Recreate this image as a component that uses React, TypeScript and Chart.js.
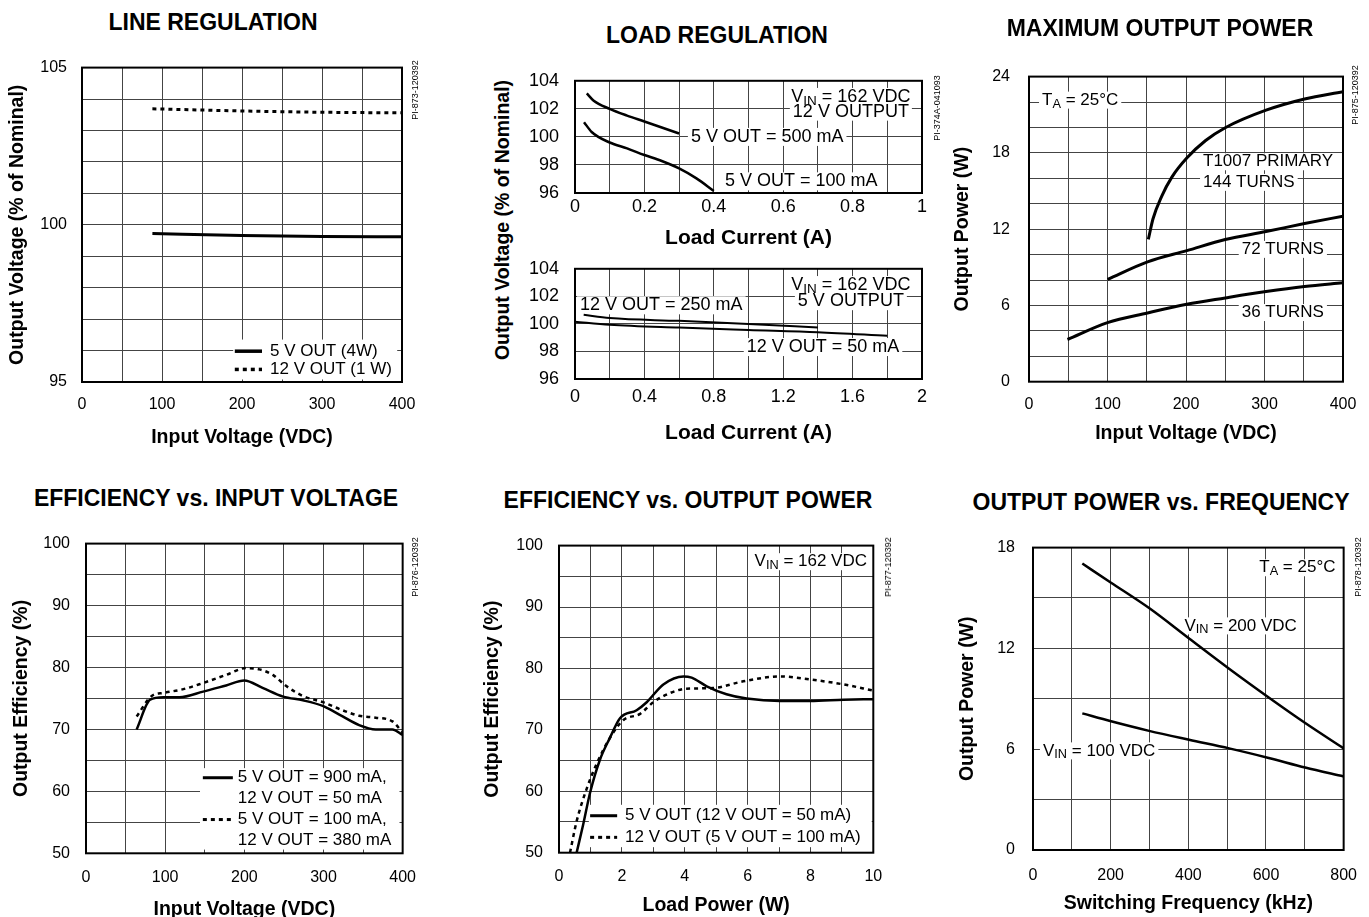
import React, { useEffect, useRef } from "react";
import { Chart, registerables } from "chart.js";
Chart.register(...registerables);

const FONT = "'Liberation Sans', Arial, Helvetica, sans-serif";

// ---------- DATA ----------
// Line regulation
const lineRegVin = [88, 200, 300, 400];
const lineReg5VOut = [99.72, 99.66, 99.63, 99.62];
const lineReg12VOut = [103.69, 103.62, 103.58, 103.56];

// Load regulation, 12 V output
const load12Curr500 = [0.034, 0.053, 0.1, 0.15, 0.2, 0.25, 0.3];
const load12Vout500 = [103.1, 102.6, 102.0, 101.52, 101.1, 100.67, 100.24];
const load12Curr100 = [0.026, 0.048, 0.1, 0.15, 0.2, 0.25, 0.3, 0.35, 0.4];
const load12Vout100 = [101.05, 100.35, 99.6, 99.18, 98.71, 98.28, 97.75, 97.04, 96.15];

// Load regulation, 5 V output
const load5Curr250 = [0.05, 0.2, 0.6, 1.0, 1.4];
const load5Vout250 = [100.66, 100.42, 100.22, 100.0, 99.74];
const load5Curr50 = [0, 0.2, 0.6, 1.0, 1.4, 1.8];
const load5Vout50 = [100.16, 99.94, 99.73, 99.56, 99.4, 99.14];

// Maximum output power
const maxPwrVin144 = [152, 158, 169, 182, 201, 225, 250, 302, 351, 400];
const maxPwr144 = [11.19, 12.82, 14.58, 16.09, 17.59, 18.97, 19.98, 21.36, 22.24, 22.82];
const maxPwrVin72 = [100, 151, 201, 250, 302, 351, 400];
const maxPwr72 = [8.05, 9.43, 10.31, 11.19, 11.81, 12.44, 13.02];
const maxPwrVin36 = [49, 100, 151, 201, 250, 302, 351, 400];
const maxPwr36 = [3.32, 4.65, 5.41, 6.09, 6.59, 7.09, 7.49, 7.79];

// Efficiency vs input voltage
const effVinA = [64, 81, 98, 118, 148, 177, 200, 223, 249, 274, 299, 320, 345, 366, 387, 400];
const effA = [70.0, 74.8, 75.2, 75.2, 76.1, 77.1, 77.9, 76.7, 75.3, 74.7, 73.8, 72.4, 70.7, 70.0, 70.0, 69.1];
const effVinB = [64, 83, 98, 123, 148, 177, 202, 219, 236, 253, 274, 299, 324, 345, 366, 387, 400];
const effB = [72.1, 75.4, 75.9, 76.5, 77.5, 78.8, 79.9, 79.7, 78.8, 77.0, 75.4, 74.4, 73.1, 72.2, 71.9, 71.3, 69.5];

// Efficiency vs output power
const effPwr5V = [0.56, 0.77, 0.99, 1.3, 1.62, 1.94, 2.47, 2.79, 3.32, 3.96, 4.22, 4.7, 5.33, 5.97, 7.03, 7.99, 9.05, 10];
const eff5V = [50, 54.6, 59.8, 65.1, 68.7, 71.9, 73.2, 74.5, 77.4, 78.7, 78.5, 77.1, 75.8, 75.1, 74.7, 74.7, 74.9, 75.0];
const effPwr12V = [0.35, 0.56, 0.88, 1.2, 1.62, 2.05, 2.58, 3.0, 3.53, 4.06, 4.9, 5.86, 7.03, 8.0, 9.05, 10];
const eff12V = [50, 55.1, 60.4, 64.5, 68.7, 71.6, 72.6, 74.5, 76.0, 76.7, 76.8, 77.9, 78.7, 78.2, 77.4, 76.4];

// Output power vs frequency
const freqKHz = [127, 201, 299, 402, 505, 607, 701, 800];
const pwrVin200 = [17.05, 15.91, 14.4, 12.59, 10.79, 9.08, 7.56, 6.05];
const pwrVin100 = [8.13, 7.66, 7.09, 6.56, 6.05, 5.48, 4.91, 4.38];

// ---------- TYPES ----------
type Seg = { t: string; sub?: boolean };
type Note = { x: number; y: number; text: Seg[]; align?: "left" | "right" | "center" };
type Swatch = { x1: number; x2: number; y: number; dashed?: boolean };
type Box = { x1: number; x2: number; y1: number; y2: number };
type Series = { xs: number[]; ys: number[]; dashed?: boolean; label: string };
type Axis = { min: number; max: number; grid: number; label: number; title?: string };
type Panel = {
  plot: [number, number, number, number];
  x: Axis;
  y: Axis;
  series: Series[];
  notes?: Note[];
  swatches?: Swatch[];
  boxes?: Box[];
  tickSize: number;
  axisTitleSize: number;
  noteSize: number;
  yTitleX?: number;
  xTitleY: number;
  xTickPad: number;
  yTickPad: number;
  lineWidth: number;
};

const T = (s: string): Seg[] => [{ t: s }];
const VIN = (rest: string): Seg[] => [{ t: "V" }, { t: "IN", sub: true }, { t: rest }];
const TA = (rest: string): Seg[] => [{ t: "T" }, { t: "A", sub: true }, { t: rest }];

// ---------- PANELS ----------
const panels: Panel[] = [
  {
    plot: [82, 57, 402, 382],
    x: { min: 0, max: 400, grid: 50, label: 100, title: "Input Voltage (VDC)" },
    y: { min: 95, max: 105, grid: 1, label: 5, title: "Output Voltage (% of Nominal)" },
    series: [
      { xs: lineRegVin, ys: lineReg5VOut, label: "5 V OUT (4W)" },
      { xs: lineRegVin, ys: lineReg12VOut, dashed: true, label: "12 V OUT (1 W)" },
    ],
    boxes: [{ x1: 189, x2: 394, y1: 96.35, y2: 95.08 }],
    swatches: [
      { x1: 191, x2: 225, y: 95.98 },
      { x1: 191, x2: 225, y: 95.4, dashed: true },
    ],
    notes: [
      { x: 235, y: 95.98, text: T("5 V OUT (4W)") },
      { x: 235, y: 95.4, text: T("12 V OUT (1 W)") },
    ],
    tickSize: 16, axisTitleSize: 19.5, noteSize: 17,
    yTitleX: 18, xTitleY: 437, xTickPad: 13, yTickPad: 15, lineWidth: 3,
  },
  {
    plot: [575, 68, 922, 193],
    x: { min: 0, max: 1, grid: 0.1, label: 0.2, title: "Load Current (A)" },
    y: { min: 96, max: 104, grid: 2, label: 2 },
    series: [
      { xs: load12Curr500, ys: load12Vout500, label: "5 V OUT = 500 mA" },
      { xs: load12Curr100, ys: load12Vout100, label: "5 V OUT = 100 mA" },
    ],
    notes: [
      { x: 0.795, y: 102.85, text: VIN(" = 162 VDC"), align: "center" },
      { x: 0.795, y: 101.8, text: T("12 V OUTPUT"), align: "center" },
      { x: 0.334, y: 100.0, text: T("5 V OUT = 500 mA") },
      { x: 0.432, y: 96.83, text: T("5 V OUT = 100 mA") },
    ],
    tickSize: 18, axisTitleSize: 21, noteSize: 18,
    xTitleY: 238, xTickPad: 3, yTickPad: 16, lineWidth: 2.5,
  },
  {
    plot: [575, 256, 922, 379],
    x: { min: 0, max: 2, grid: 0.2, label: 0.4, title: "Load Current (A)" },
    y: { min: 96, max: 104, grid: 2, label: 2 },
    series: [
      { xs: load5Curr250, ys: load5Vout250, label: "12 V OUT = 250 mA" },
      { xs: load5Curr50, ys: load5Vout50, label: "12 V OUT = 50 mA" },
    ],
    notes: [
      { x: 1.59, y: 102.82, text: VIN(" = 162 VDC"), align: "center" },
      { x: 1.59, y: 101.65, text: T("5 V OUTPUT"), align: "center" },
      { x: 0.029, y: 101.35, text: T("12 V OUT = 250 mA") },
      { x: 0.99, y: 98.32, text: T("12 V OUT = 50 mA") },
    ],
    tickSize: 18, axisTitleSize: 21, noteSize: 18,
    xTitleY: 433, xTickPad: 7, yTickPad: 16, lineWidth: 2,
  },
  {
    plot: [1029, 62.7, 1343, 381.7],
    x: { min: 0, max: 400, grid: 50, label: 100, title: "Input Voltage (VDC)" },
    y: { min: 0, max: 24, grid: 2, label: 6, title: "Output Power (W)" },
    series: [
      { xs: maxPwrVin144, ys: maxPwr144, label: "144 TURNS" },
      { xs: maxPwrVin72, ys: maxPwr72, label: "72 TURNS" },
      { xs: maxPwrVin36, ys: maxPwr36, label: "36 TURNS" },
    ],
    notes: [
      { x: 16.6, y: 22.15, text: TA(" = 25°C") },
      { x: 221.7, y: 17.3, text: T("T1007 PRIMARY") },
      { x: 221.7, y: 15.68, text: T("144 TURNS") },
      { x: 271, y: 10.41, text: T("72 TURNS") },
      { x: 271, y: 5.44, text: T("36 TURNS") },
    ],
    tickSize: 16, axisTitleSize: 19.5, noteSize: 17,
    yTitleX: 963, xTitleY: 433, xTickPad: 13, yTickPad: 19, lineWidth: 3,
  },
  {
    plot: [86, 532.3, 403, 853.3],
    x: { min: 0, max: 400, grid: 50, label: 100, title: "Input Voltage (VDC)" },
    y: { min: 50, max: 100, grid: 5, label: 10, title: "Output Efficiency (%)" },
    series: [
      { xs: effVinA, ys: effA, label: "5 V OUT = 900 mA, 12 V OUT = 50 mA" },
      { xs: effVinB, ys: effB, dashed: true, label: "5 V OUT = 100 mA, 12 V OUT = 380 mA" },
    ],
    boxes: [{ x1: 144, x2: 396, y1: 63.75, y2: 50.6 }],
    swatches: [
      { x1: 147.6, x2: 185.5, y: 62.2 },
      { x1: 147.6, x2: 185.5, y: 55.45, dashed: true },
    ],
    notes: [
      { x: 191.8, y: 62.2, text: T("5 V OUT = 900 mA,") },
      { x: 191.8, y: 58.82, text: T("12 V OUT = 50 mA") },
      { x: 191.8, y: 55.45, text: T("5 V OUT = 100 mA,") },
      { x: 191.8, y: 52.07, text: T("12 V OUT = 380 mA") },
    ],
    tickSize: 16, axisTitleSize: 19.5, noteSize: 17,
    yTitleX: 22, xTitleY: 909, xTickPad: 15, yTickPad: 16, lineWidth: 2.5,
  },
  {
    plot: [559, 534, 873.3, 852.7],
    x: { min: 0, max: 10, grid: 1, label: 2, title: "Load Power (W)" },
    y: { min: 50, max: 100, grid: 5, label: 10, title: "Output Efficiency (%)" },
    series: [
      { xs: effPwr5V, ys: eff5V, label: "5 V OUT (12 V OUT = 50 mA)" },
      { xs: effPwr12V, ys: eff12V, dashed: true, label: "12 V OUT (5 V OUT = 100 mA)" },
    ],
    boxes: [{ x1: 0.95, x2: 9.95, y1: 57.8, y2: 50.9 }],
    swatches: [
      { x1: 0.99, x2: 1.85, y: 56.02 },
      { x1: 0.99, x2: 1.85, y: 52.5, dashed: true },
    ],
    notes: [
      { x: 9.8, y: 97.38, text: VIN(" = 162 VDC"), align: "right" },
      { x: 2.1, y: 56.02, text: T("5 V OUT (12 V OUT = 50 mA)") },
      { x: 2.1, y: 52.5, text: T("12 V OUT (5 V OUT = 100 mA)") },
    ],
    tickSize: 16, axisTitleSize: 19.5, noteSize: 17,
    yTitleX: 493, xTitleY: 905, xTickPad: 14, yTickPad: 16, lineWidth: 2.5,
  },
  {
    plot: [1033, 534, 1345, 850],
    x: { min: 0, max: 800, grid: 100, label: 200, title: "Switching Frequency (kHz)" },
    y: { min: 0, max: 18, grid: 3, label: 6, title: "Output Power (W)" },
    series: [
      { xs: freqKHz, ys: pwrVin200, label: "VIN = 200 VDC" },
      { xs: freqKHz, ys: pwrVin100, label: "VIN = 100 VDC" },
    ],
    notes: [
      { x: 779, y: 16.8, text: TA(" = 25°C"), align: "right" },
      { x: 390, y: 13.34, text: VIN(" = 200 VDC") },
      { x: 25.6, y: 5.9, text: VIN(" = 100 VDC") },
    ],
    tickSize: 16, axisTitleSize: 19.5, noteSize: 17,
    yTitleX: 968, xTitleY: 903, xTickPad: 16, yTickPad: 18, lineWidth: 2.5,
  },
];

const panelTitles = [
  { text: "LINE REGULATION", x: 213, y: 22 },
  { text: "LOAD REGULATION", x: 717, y: 35 },
  { text: "MAXIMUM OUTPUT POWER", x: 1160, y: 28 },
  { text: "EFFICIENCY vs. INPUT VOLTAGE", x: 216, y: 498 },
  { text: "EFFICIENCY vs. OUTPUT POWER", x: 688, y: 500 },
  { text: "OUTPUT POWER vs. FREQUENCY", x: 1161, y: 502 },
];

const partNumbers = [
  { text: "PI-873-120392", x: 415, y: 90 },
  { text: "PI-374A-041093", x: 937, y: 108 },
  { text: "PI-875-120392", x: 1355, y: 95 },
  { text: "PI-876-120392", x: 415, y: 567 },
  { text: "PI-877-120392", x: 888, y: 567 },
  { text: "PI-878-120392", x: 1358, y: 567 },
];

// ---------- CHART HELPERS ----------
function geometry(p: Panel) {
  const [l, t, r, b] = p.plot;
  const lh = p.axisTitleSize * 1.2;
  const left = p.yTitleX !== undefined ? Math.round(p.yTitleX - lh / 2 - 4) : Math.round(l - 60);
  const top = Math.floor(t) - 14;
  const right = Math.ceil(r) + 28;
  const bottom = Math.round(p.xTitleY + lh / 2 + 4);
  return { left, top, w: right - left, h: bottom - top, yw: l - left, xh: bottom - b, pt: t - top, pr: right - r };
}

function gridValues(a: Axis) {
  const n = Math.round((a.max - a.min) / a.grid);
  const out: number[] = [];
  for (let i = 0; i <= n; i++) out.push(Math.round((a.min + i * a.grid) * 1e6) / 1e6);
  return out;
}

function isLabel(v: number, a: Axis) {
  const q = (v - a.min) / a.label;
  return Math.abs(q - Math.round(q)) < 1e-6;
}

function decorPlugin(p: Panel) {
  return {
    id: "decor",
    beforeDatasetsDraw(chart: any) {
      const ctx = chart.ctx as CanvasRenderingContext2D;
      const xs = chart.scales.x;
      const ys = chart.scales.y;
      ctx.save();
      ctx.fillStyle = "#fff";
      (p.boxes || []).forEach((b) => {
        const x1 = xs.getPixelForValue(b.x1), x2 = xs.getPixelForValue(b.x2);
        const y1 = ys.getPixelForValue(b.y1), y2 = ys.getPixelForValue(b.y2);
        ctx.fillRect(Math.min(x1, x2), Math.min(y1, y2), Math.abs(x2 - x1), Math.abs(y2 - y1));
      });
      const size = p.noteSize;
      const sub = size * 0.75;
      const laid = (p.notes || []).map((n) => {
        const widths = n.text.map((s) => {
          ctx.font = `${s.sub ? sub : size}px ${FONT}`;
          return ctx.measureText(s.t).width;
        });
        const total = widths.reduce((a, b) => a + b, 0);
        let x0 = xs.getPixelForValue(n.x);
        if (n.align === "right") x0 -= total;
        else if (n.align === "center") x0 -= total / 2;
        const py = ys.getPixelForValue(n.y);
        return { n, widths, total, x0, py };
      });
      // backgrounds first
      ctx.fillStyle = "#fff";
      laid.forEach(({ total, x0, py }) => {
        ctx.fillRect(x0 - 3, py - size * 0.5, total + 6, size * 1.0);
      });
      (p.swatches || []).forEach((s) => {
        ctx.beginPath();
        ctx.setLineDash(s.dashed ? [4, 4] : []);
        ctx.lineWidth = p.lineWidth + 0.5;
        ctx.strokeStyle = "#000";
        const y = ys.getPixelForValue(s.y);
        ctx.moveTo(xs.getPixelForValue(s.x1), y);
        ctx.lineTo(xs.getPixelForValue(s.x2), y);
        ctx.stroke();
      });
      ctx.setLineDash([]);
      // text
      ctx.fillStyle = "#000";
      ctx.textBaseline = "middle";
      ctx.textAlign = "left";
      laid.forEach(({ n, widths, x0, py }) => {
        let cx = x0;
        n.text.forEach((s, i) => {
          ctx.font = `${s.sub ? sub : size}px ${FONT}`;
          ctx.fillText(s.t, cx, s.sub ? py + size * 0.24 : py);
          cx += widths[i];
        });
      });
      ctx.restore();
    },
    afterDatasetsDraw(chart: any) {
      const ctx = chart.ctx as CanvasRenderingContext2D;
      const { left, top, right, bottom } = chart.chartArea;
      ctx.save();
      ctx.lineWidth = 2;
      ctx.strokeStyle = "#000";
      ctx.strokeRect(left, top, right - left, bottom - top);
      ctx.restore();
    },
  };
}

function PanelChart({ p }: { p: Panel }) {
  const ref = useRef<HTMLCanvasElement>(null);
  const g = geometry(p);
  useEffect(() => {
    const fmt = (v: number) => String(Math.round(v * 1000) / 1000);
    const axisOpts = (a: Axis, horizontal: boolean) => ({
      type: "linear" as const,
      min: a.min,
      max: a.max,
      afterBuildTicks: (s: any) => {
        s.ticks = gridValues(a).map((v) => ({ value: v }));
      },
      afterFit: (s: any) => {
        if (horizontal) s.height = g.xh;
        else s.width = g.yw;
      },
      ticks: {
        autoSkip: false,
        maxRotation: 0,
        minRotation: 0,
        padding: horizontal ? p.xTickPad : p.yTickPad,
        color: "#000",
        font: { size: p.tickSize, family: FONT, lineHeight: 1.2 },
        callback: (v: any) => (isLabel(Number(v), a) ? fmt(Number(v)) : ""),
      },
      grid: { color: "#444", lineWidth: 1, drawTicks: false },
      border: { display: false },
      title: {
        display: !!a.title,
        text: a.title || "",
        color: "#000",
        font: { size: p.axisTitleSize, weight: "bold" as const, family: FONT, lineHeight: 1.2 },
        padding: horizontal ? { top: 0, bottom: 4 } : { top: 4, bottom: 0 },
      },
    });
    const chart = new Chart(ref.current as HTMLCanvasElement, {
      type: "line",
      data: {
        datasets: p.series.map((s) => ({
          label: s.label,
          data: s.xs.map((x, i) => ({ x, y: s.ys[i] })),
          borderColor: "#000",
          backgroundColor: "#000",
          borderWidth: p.lineWidth,
          borderDash: s.dashed ? [4, 4] : [],
          pointRadius: 0,
          fill: false,
          cubicInterpolationMode: "monotone" as const,
        })),
      },
      options: {
        responsive: false,
        animation: false,
        layout: { padding: { top: g.pt, right: g.pr, left: 0, bottom: 0 } },
        plugins: { legend: { display: false }, tooltip: { enabled: false }, title: { display: false } },
        scales: { x: axisOpts(p.x, true), y: axisOpts(p.y, false) } as any,
      },
      plugins: [decorPlugin(p)],
    });
    return () => chart.destroy();
  }, []);
  return (
    <canvas
      ref={ref}
      width={g.w}
      height={g.h}
      style={{ position: "absolute", left: g.left, top: g.top, width: g.w, height: g.h }}
    />
  );
}

export default function App() {
  return (
    <div
      style={{
        position: "absolute",
        left: 0,
        top: 0,
        width: 1369,
        height: 917,
        background: "#fff",
        fontFamily: FONT,
        color: "#000",
        overflow: "hidden",
      }}
    >
      {panels.map((p, i) => (
        <PanelChart key={i} p={p} />
      ))}
      {panelTitles.map((t, i) => (
        <div
          key={"t" + i}
          style={{
            position: "absolute",
            left: t.x,
            top: t.y,
            transform: "translate(-50%, -50%)",
            whiteSpace: "nowrap",
            fontSize: 23,
            fontWeight: "bold",
          }}
        >
          {t.text}
        </div>
      ))}
      <div
        style={{
          position: "absolute",
          left: 502,
          top: 220,
          transform: "translate(-50%, -50%) rotate(-90deg)",
          whiteSpace: "nowrap",
          fontSize: 19.5,
          fontWeight: "bold",
        }}
      >
        Output Voltage (% of Nominal)
      </div>
      {partNumbers.map((t, i) => (
        <div
          key={"p" + i}
          style={{
            position: "absolute",
            left: t.x,
            top: t.y,
            transform: "translate(-50%, -50%) rotate(-90deg)",
            whiteSpace: "nowrap",
            fontSize: 9,
          }}
        >
          {t.text}
        </div>
      ))}
    </div>
  );
}
